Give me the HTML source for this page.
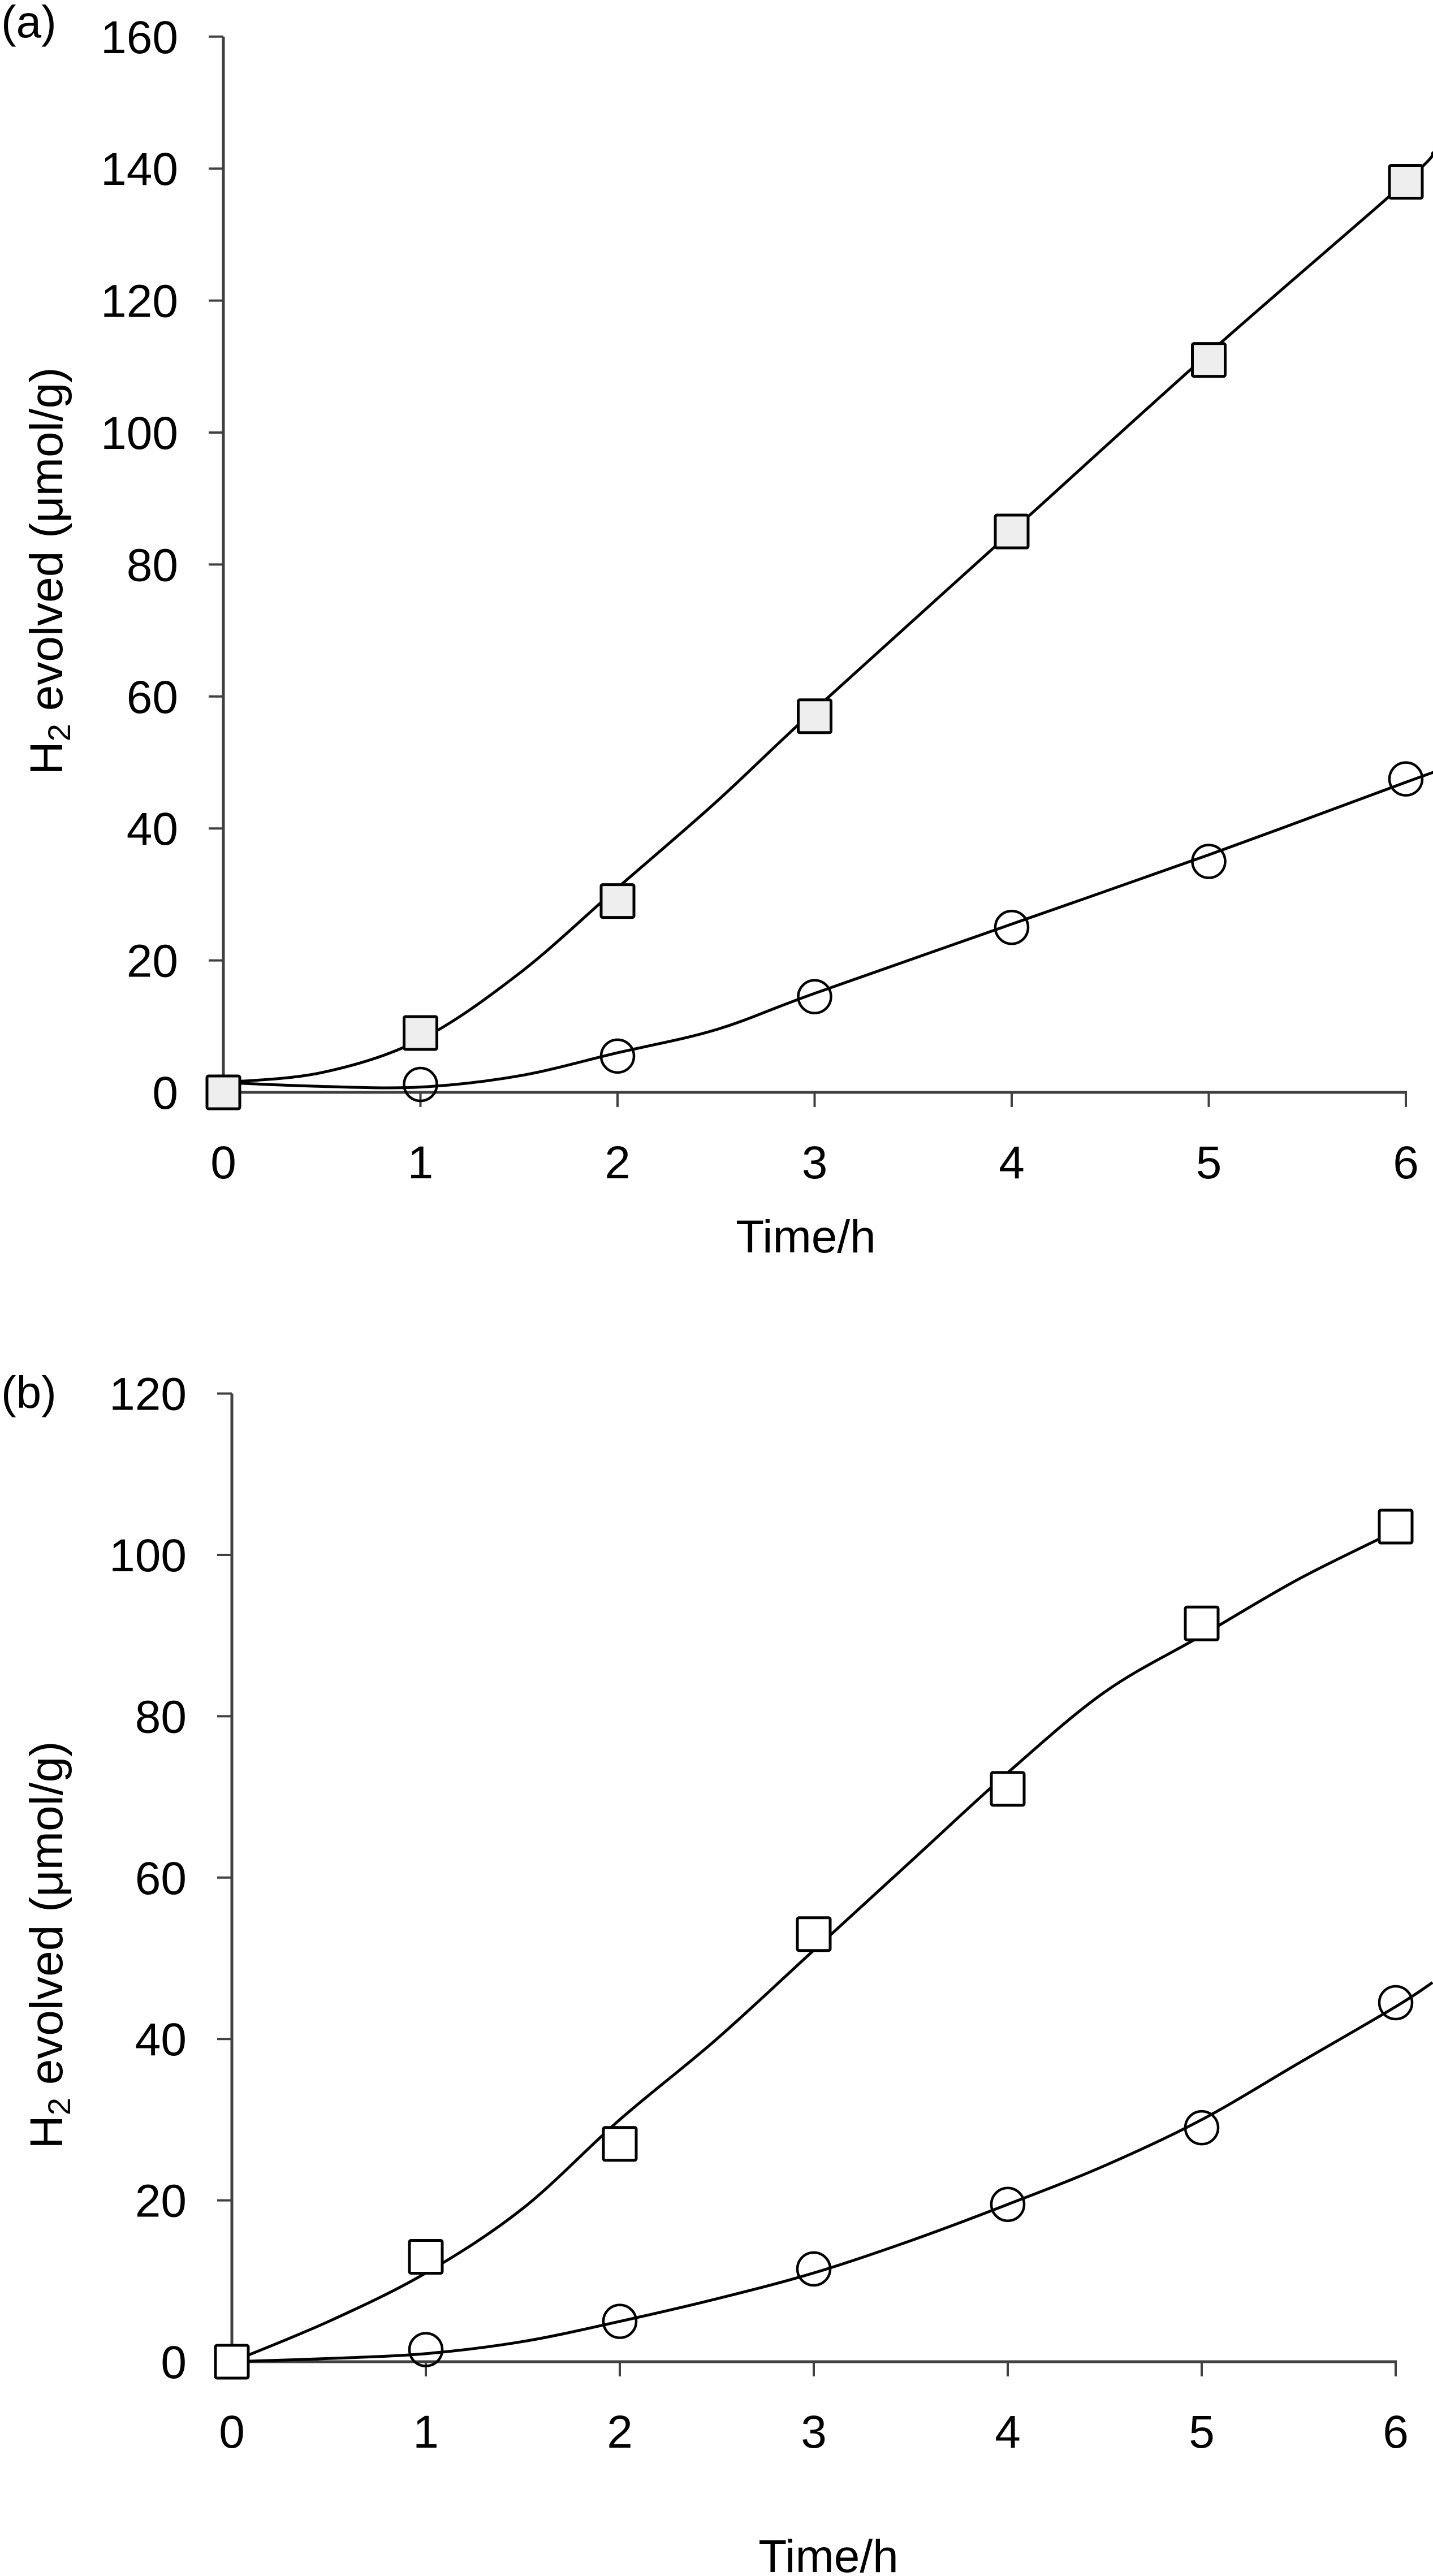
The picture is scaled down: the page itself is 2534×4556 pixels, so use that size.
<!DOCTYPE html>
<html><head><meta charset="utf-8">
<style>
html,body{margin:0;padding:0;background:#fff;}
svg{display:block;font-family:"Liberation Sans",Arial,sans-serif;}
</style></head>
<body>
<svg id="fig" width="2534" height="4556" viewBox="0 0 2534 4556" xmlns="http://www.w3.org/2000/svg"></svg>
<script>
const timeCats = [0, 1, 2, 3, 4, 5, 6];
const aSquares = [0, 9, 29, 57, 85, 111, 138];
const aCircles = [0, 1.2, 5.5, 14.5, 25, 35, 47.5];
const aSqFitX = [0, 0.5, 1, 1.5, 2, 2.5, 3, 4, 5, 6, 6.14];
const aSqFitY = [1.5, 3, 8, 18, 31, 44, 58, 85, 112, 138, 142.5];
const aCiFitX = [0, 0.5, 1, 1.5, 2, 2.5, 3, 4, 5, 6, 6.14];
const aCiFitY = [1.5, 0.9, 0.8, 2.5, 6, 9.5, 15, 25.5, 36, 47, 48.5];
const bSquares = [0, 13, 27, 53, 71, 91.5, 103.5];
const bCircles = [0, 1.5, 5, 11.5, 19.5, 29, 44.5];
const bSqFitX = [0, 0.5, 1, 1.5, 2, 2.5, 3, 3.5, 4, 4.5, 5, 5.5, 6, 6.05];
const bSqFitY = [0, 5, 11, 19, 30, 40, 51, 62, 73, 83, 90, 97, 103, 104];
const bCiFitX = [0, 0.5, 1, 1.5, 2, 2.5, 3, 3.5, 4, 4.5, 5, 5.5, 6, 6.19];
const bCiFitY = [0, 0.4, 1, 2.5, 5, 7.8, 11, 15, 19.5, 24.3, 30, 37, 44, 47];
const aYTicks = [0, 20, 40, 60, 80, 100, 120, 140, 160];
const bYTicks = [0, 20, 40, 60, 80, 100, 120];

const NS = "http://www.w3.org/2000/svg";
const svg = document.getElementById('fig');
function mk(tag, attrs, parent){
  const e = document.createElementNS(NS, tag);
  for (const k in attrs) e.setAttribute(k, attrs[k]);
  (parent||svg).appendChild(e);
  return e;
}
function smoothPath(pts){
  let d = `M${pts[0][0]},${pts[0][1]}`;
  for (let i=0;i<pts.length-1;i++){
    const p0=pts[Math.max(0,i-1)], p1=pts[i], p2=pts[i+1], p3=pts[Math.min(pts.length-1,i+2)];
    const c1x=p1[0]+(p2[0]-p0[0])/6, c1y=p1[1]+(p2[1]-p0[1])/6;
    const c2x=p2[0]-(p3[0]-p1[0])/6, c2y=p2[1]-(p3[1]-p1[1])/6;
    d+=` C${c1x},${c1y} ${c2x},${c2y} ${p2[0]},${p2[1]}`;
  }
  return d;
}
function panel(cfg){
  const g = mk('g', {});
  
  
  const X = v => cfg.x0 + v*cfg.dx;
  const Y = v => cfg.y0 - v*cfg.dy;
  const yTop = Y(cfg.ymax);
  const ya = mk('line', {x1:X(0), y1:yTop, x2:X(0), y2:Y(0), stroke:'#404040','stroke-width':5}, g);
  
  
  const xa = mk('line', {x1:X(0), y1:Y(0), x2:X(6)+2, y2:Y(0), stroke:'#404040','stroke-width':5}, g);
  
  
  cfg.yTicks.forEach(v=>{
    const t = mk('line', {x1:X(0)-26, y1:Y(v), x2:X(0), y2:Y(v), stroke:'#404040','stroke-width':4}, g);
    
    
    const l = mk('text', {x:X(0)-80, y:Y(v)+29, 'text-anchor':'end','font-size':82, fill:'#000'}, g);
    l.textContent = v;
    
    
  });
  timeCats.forEach(v=>{
    const t = mk('line', {x1:X(v), y1:Y(0), x2:X(v), y2:Y(0)+26, stroke:'#404040','stroke-width':4}, g);
    
    
    const l = mk('text', {x:X(v), y:Y(0)+152, 'text-anchor':'middle','font-size':82, fill:'#000'}, g);
    l.textContent = v;
    
    
  });
  const c1 = mk('path', {d:smoothPath(cfg.sqFitX.map((x,i)=>[X(x),Y(cfg.sqFitY[i])])), fill:'none', stroke:'#000','stroke-width':5}, g);
  
  
  const c2 = mk('path', {d:smoothPath(cfg.ciFitX.map((x,i)=>[X(x),Y(cfg.ciFitY[i])])), fill:'none', stroke:'#000','stroke-width':5}, g);
  
  
  timeCats.forEach((t,i)=>{
    const c = mk('ellipse', {cx:X(t), cy:Y(cfg.ci[i]), rx:29, ry:29, fill:'none', stroke:'#000','stroke-width':4.5}, g);
    
    
  });
  timeCats.forEach((t,i)=>{
    const s = mk('rect', {x:X(t)-29, y:Y(cfg.sq[i])-29, width:58, height:58, rx:3, fill:cfg.sqFill, stroke:'#000','stroke-width':5}, g);
    
    
  });
  const pl = mk('text', {x:2, y:cfg.panelLabelY, 'font-size':80, fill:'#000'}, g);
  pl.textContent = cfg.label;
  
  
  const yl = mk('text', {x:0, y:0, 'text-anchor':'middle','font-size':82, fill:'#000', transform:`translate(110,${cfg.yLabelY}) rotate(-90)`}, g);
  
  
  yl.innerHTML = 'H<tspan font-size="56" dy="14">2</tspan><tspan dy="-14"> evolved (μmol/g)</tspan>';
  const xl = mk('text', {x:cfg.xLabelX, y:cfg.xLabelY, 'text-anchor':'middle','font-size':82, fill:'#000'}, g);
  xl.textContent = 'Time/h';
  
  
}
panel({name:'panel-a', label:'(a)', x0:395, dx:348.5, y0:1932, dy:11.67, ymax:160, yTicks:aYTicks,
  sq:aSquares, ci:aCircles, sqFitX:aSqFitX, sqFitY:aSqFitY, ciFitX:aCiFitX, ciFitY:aCiFitY,
  sqFill:'#eeeeee', panelLabelY:66, yLabelY:1010, xLabelX:1425, xLabelY:2215});
panel({name:'panel-b', label:'(b)', x0:410, dx:343, y0:4177, dy:14.27, ymax:120, yTicks:bYTicks,
  sq:bSquares, ci:bCircles, sqFitX:bSqFitX, sqFitY:bSqFitY, ciFitX:bCiFitX, ciFitY:bCiFitY,
  sqFill:'#ffffff', panelLabelY:2490, yLabelY:3440, xLabelX:1465, xLabelY:4549});
</script>
</body></html>
